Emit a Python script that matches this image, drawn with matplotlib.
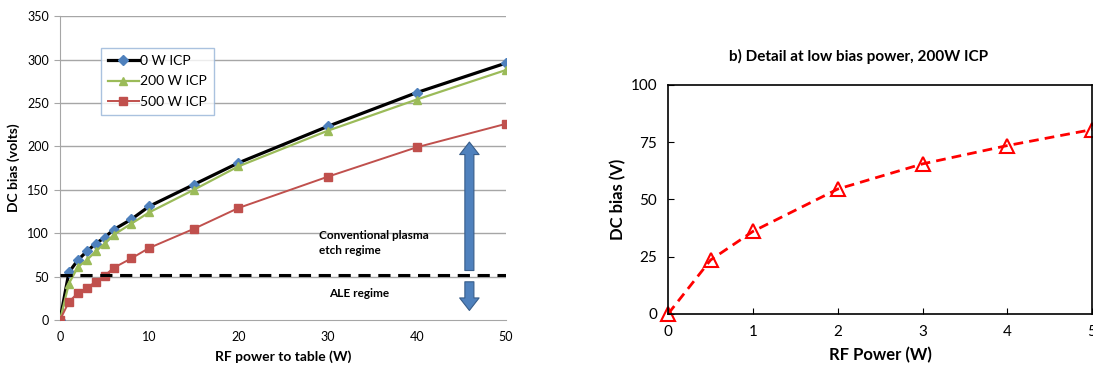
import matplotlib.pyplot as plt

plt.rcParams['font.family'] = ['Lato', 'DejaVu Sans']

# a) DC bias vs RF power, three ICP powers
rf_power = [0, 1, 2, 3, 4, 5, 6, 8, 10, 15, 20, 30, 40, 50]
bias_0w = [0, 55, 69, 79, 88, 95, 104, 116, 131, 156, 181, 223, 262, 296]
bias_200w = [0, 42, 61, 69, 79, 88, 98, 111, 124, 150, 177, 218, 254, 288]
bias_500w = [0, 21, 31, 37, 44, 51, 60, 71, 83, 105, 129, 165, 199, 226]
ale_limit = 52

# b) detail at low bias power, 200 W ICP
rf_low = [0, 0.5, 1, 2, 3, 4, 5]
bias_low = [0, 23.5, 36, 54.5, 65.5, 73.5, 80.5]

fig = plt.figure(figsize=(10.93, 3.66), dpi=100)

# ---- left chart ----
ax = fig.add_axes([0.0549, 0.1257, 0.408, 0.830])
grid_col = '#a6a6a6'
for v in range(50, 351, 50):
    ax.axhline(v, color=grid_col, lw=1, zorder=0)

ax.plot(rf_power, bias_0w, color='black', lw=2.3, marker='D', ms=5.5,
        mfc='#4f81bd', mec='#4f81bd', label='0 W ICP', zorder=3)
ax.plot(rf_power, bias_200w, color='#9bbb59', lw=1.6, marker='^', ms=6,
        mfc='#9bbb59', mec='#9bbb59', label='200 W ICP', zorder=4)
ax.plot(rf_power, bias_500w, color='#c0504d', lw=1.4, marker='s', ms=5.5,
        mfc='#c0504d', mec='#c0504d', label='500 W ICP', zorder=5)
ax.plot([0, 50.2], [ale_limit, ale_limit], color='black', lw=2.2,
        dashes=(4, 2.5), zorder=6)

arrow_kw = dict(arrowstyle='simple,head_length=0.9,head_width=1.4,tail_width=0.65',
                fc='#4f81bd', ec='#385d8a', lw=0.8, shrinkA=0, shrinkB=0,
                mutation_scale=10)
ax.annotate('', xy=(45.9, 205), xytext=(45.9, 57), arrowprops=arrow_kw, zorder=7)
ax.annotate('', xy=(45.9, 11), xytext=(45.9, 44), arrowprops=arrow_kw, zorder=7)

ax.text(29, 89, 'Conventional plasma\netch regime', fontsize=8.5,
        fontweight='bold', ha='left', va='center', linespacing=1.45)
ax.text(30.2, 30.5, 'ALE regime', fontsize=8.5, fontweight='bold',
        ha='left', va='center')

ax.set_xlim(0, 50)
ax.set_ylim(0, 350)
ax.set_xticks(range(0, 51, 10))
ax.set_yticks(range(0, 351, 50))
for s in ['top', 'right']:
    ax.spines[s].set_visible(False)
ax.spines['left'].set_color(grid_col)
ax.spines['bottom'].set_color(grid_col)
ax.tick_params(axis='y', length=4, color=grid_col, labelsize=9, pad=4)
ax.tick_params(axis='x', length=0, labelsize=9, pad=8)
ax.set_xlabel('RF power to table (W)', fontsize=10, fontweight='bold', labelpad=5)
ax.set_ylabel('DC bias (volts)', fontsize=10, fontweight='bold', labelpad=5)

leg = ax.legend(loc='upper left', bbox_to_anchor=(0.092, 0.895),
                borderaxespad=0, fontsize=10, frameon=True, fancybox=False,
                handlelength=2.2, handletextpad=0.1, labelspacing=0.6,
                borderpad=0.5)
leg.get_frame().set_edgecolor('#95b3d7')
leg.get_frame().set_linewidth(1)

# ---- right chart ----
ax2 = fig.add_axes([0.6114, 0.1429, 0.3877, 0.6249])
ax2.plot(rf_low, bias_low, color='red', lw=2, dashes=(3.5, 2.2),
         marker='^', ms=10, mfc='none', mec='red', mew=1.5, clip_on=False)
ax2.set_xlim(0, 5)
ax2.set_ylim(0, 100)
ax2.set_xticks(range(0, 6))
ax2.set_yticks(range(0, 101, 25))
for s in ax2.spines.values():
    s.set_linewidth(1.2)
ax2.tick_params(direction='in', length=4, labelsize=11, pad=8)
ax2.set_xlabel('RF Power (W)', fontsize=12, fontweight='bold', labelpad=6)
ax2.set_ylabel('DC bias (V)', fontsize=12, fontweight='bold', labelpad=3)
ax2.set_title('b) Detail at low bias power, 200W ICP', fontsize=11,
              fontweight='bold', pad=17, x=0.45)

fig.savefig('out.png', dpi=100)
